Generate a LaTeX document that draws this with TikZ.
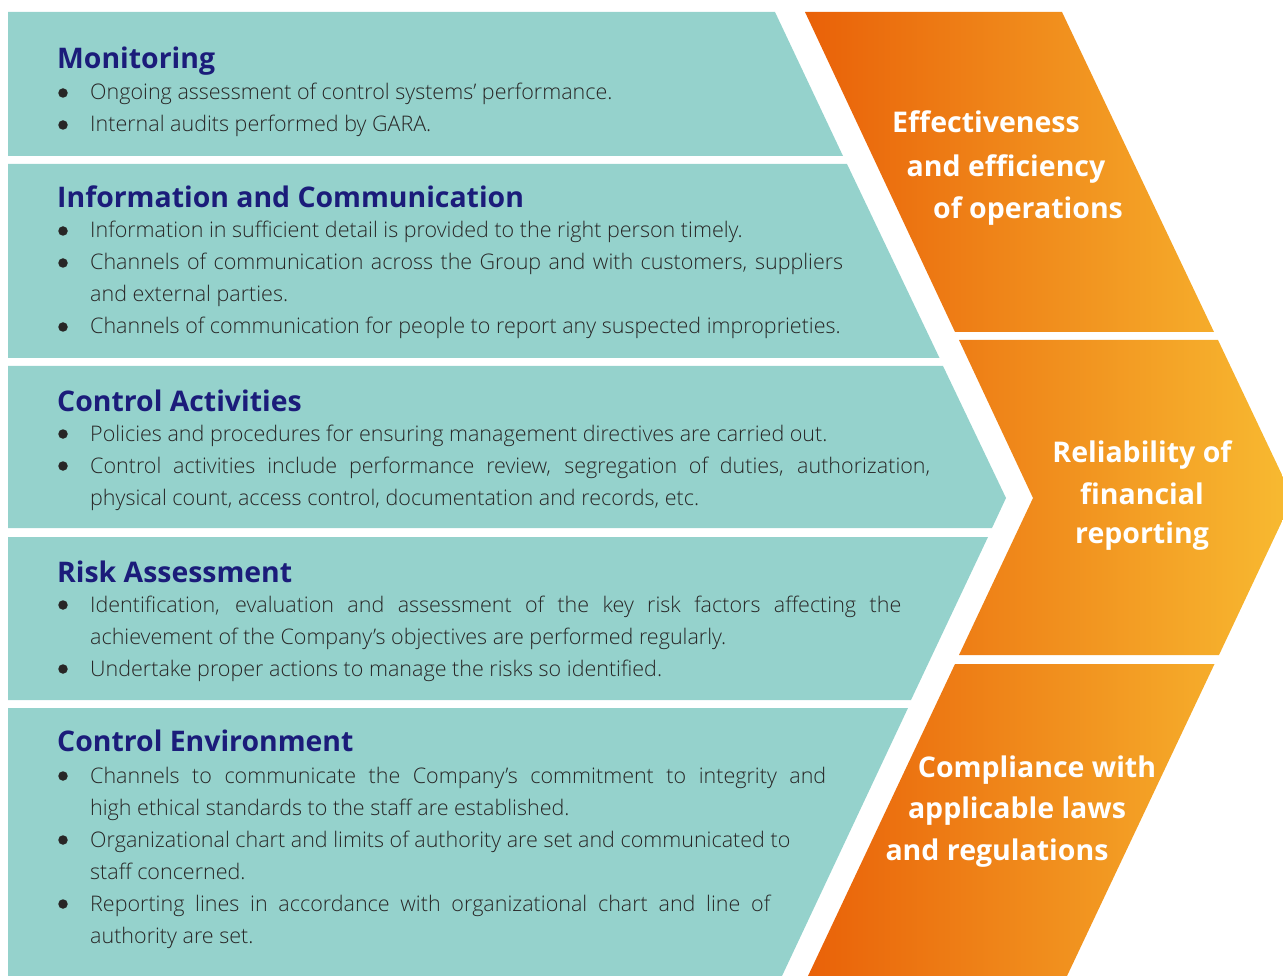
\documentclass[tikz,border=0pt]{standalone}
\usepackage{fontspec}
\setmainfont{Open Sans}
\newfontfamily\lightfont{Open Sans Light}
\definecolor{panel}{RGB}{149,210,204}
\definecolor{headblue}{RGB}{27,28,122}
\definecolor{ink}{RGB}{40,38,38}
\definecolor{orA}{RGB}{233,96,8}
\definecolor{orB}{RGB}{240,132,22}
\definecolor{orC}{RGB}{248,188,50}

\begin{document}
\begin{tikzpicture}[
    x=1pt, y=-1pt,
    band/.style={fill=panel, draw=none},
    head/.style={anchor=base west, inner sep=0pt, text=headblue, font=\bfseries\fontsize{28.4}{34}\selectfont},
    txt/.style={anchor=base west, inner sep=0pt, text=ink, font=\lightfont\fontsize{21.5}{32}\selectfont},
    dot/.style={circle, fill=ink, inner sep=0pt, minimum size=9.5pt},
    goal/.style={anchor=base, inner sep=0pt, text=white, font=\bfseries\fontsize{28.5}{34}\selectfont},
    glow/.style={left color=orA, middle color=orB, right color=orC}
]
    \useasboundingbox (0,0) rectangle (1283,976);
    \clip (0,0) rectangle (1283,976);

    % teal chevron, five bands
    \fill[band] (8,12) -- (775,12) -- (843,156) -- (8,156) -- cycle;
    \fill[band] (8,164) -- (847,164) -- (939.5,358) -- (8,358) -- cycle;
    \fill[band] (8,366) -- (943,366) -- (1006,498) -- (992,528) -- (8,528) -- cycle;
    \fill[band] (8,537) -- (988,537) -- (911,700) -- (8,700) -- cycle;
    \fill[band] (8,708) -- (908,708) -- (782,976) -- (8,976) -- cycle;

    % orange chevron, three bands
    \begin{scope}
        \clip (805,12) -- (1062,12) -- (1214,332) -- (955,332) -- cycle;
        \shade[glow] (800,0) rectangle (1300,980);
    \end{scope}
    \begin{scope}
        \clip (959,340) -- (1218,340) -- (1293,498) -- (1219,655) -- (959,655) -- (1033,498) -- cycle;
        \shade[glow] (800,0) rectangle (1300,980);
    \end{scope}
    \begin{scope}
        \clip (955,664) -- (1214.5,664) -- (1067,976) -- (808,976) -- cycle;
        \shade[glow] (800,0) rectangle (1300,980);
    \end{scope}

    % Monitoring
    \node[head] (mon) at (57,69) {Monitoring};
    \node[dot] (mon1d) at (63,93) {};
    \node[txt] (mon1) at (90,100) {Ongoing assessment of control systems’ performance.};
    \node[dot] (mon2d) at (63,125) {};
    \node[txt] (mon2) at (90,132) {Internal audits performed by GARA.};

    % Information and Communication
    \node[head] (inf) at (57,208) {Information and Communication};
    \node[dot] (inf1d) at (63,231) {};
    \node[txt] (inf1) at (90,238) {Information in sufficient detail is provided to the right person timely.};
    \node[dot] (inf2d) at (63,263) {};
    \node[txt] (inf2) at (90,270) {\makebox[753pt][s]{Channels of communication across the Group and with customers, suppliers}};
    \node[txt] (inf2b) at (90,302) {and external parties.};
    \node[dot] (inf3d) at (63,327) {};
    \node[txt] (inf3) at (90,334) {Channels of communication for people to report any suspected improprieties.};

    % Control Activities
    \node[head] (act) at (57,411) {Control Activities};
    \node[dot] (act1d) at (63,434) {};
    \node[txt] (act1) at (90,441) {Policies and procedures for ensuring management directives are carried out.};
    \node[dot] (act2d) at (63,466) {};
    \node[txt] (act2) at (90,473) {\makebox[840pt][s]{Control activities include performance review, segregation of duties, authorization,}};
    \node[txt] (act2b) at (90,505) {physical count, access control, documentation and records, etc.};

    % Risk Assessment
    \node[head] (risk) at (57,582) {Risk Assessment};
    \node[dot] (risk1d) at (63,605) {};
    \node[txt] (risk1) at (90,612) {\makebox[811pt][s]{Identification, evaluation and assessment of the key risk factors affecting the}};
    \node[txt] (risk1b) at (90,644) {achievement of the Company’s objectives are performed regularly.};
    \node[dot] (risk2d) at (63,669) {};
    \node[txt] (risk2) at (90,676) {Undertake proper actions to manage the risks so identified.};

    % Control Environment
    \node[head] (env) at (57,751) {Control Environment};
    \node[dot] (env1d) at (63,776) {};
    \node[txt] (env1) at (90,783) {\makebox[736pt][s]{Channels to communicate the Company’s commitment to integrity and}};
    \node[txt] (env1b) at (90,815) {high ethical standards to the staff are established.};
    \node[dot] (env2d) at (63,840) {};
    \node[txt] (env2) at (90,847) {Organizational chart and limits of authority are set and communicated to};
    \node[txt] (env2b) at (90,879) {staff concerned.};
    \node[dot] (env3d) at (63,904) {};
    \node[txt] (env3) at (90,911) {\makebox[680pt][s]{Reporting lines in accordance with organizational chart and line of}};
    \node[txt] (env3b) at (90,943) {authority are set.};

    % objectives
    \node[goal] (eff1) at (986,133) {Effectiveness};
    \node[goal] (eff2) at (1006,177) {and efficiency};
    \node[goal] (eff3) at (1028,219) {of operations};
    \node[goal] (rel1) at (1142,462) {Reliability of};
    \node[goal] (rel2) at (1142,504) {financial};
    \node[goal] (rel3) at (1142,543) {reporting};
    \node[goal] (comp1) at (1037,777) {Compliance with};
    \node[goal] (comp2) at (1017,818) {applicable laws};
    \node[goal] (comp3) at (997,860) {and regulations};
\end{tikzpicture}
\end{document}
